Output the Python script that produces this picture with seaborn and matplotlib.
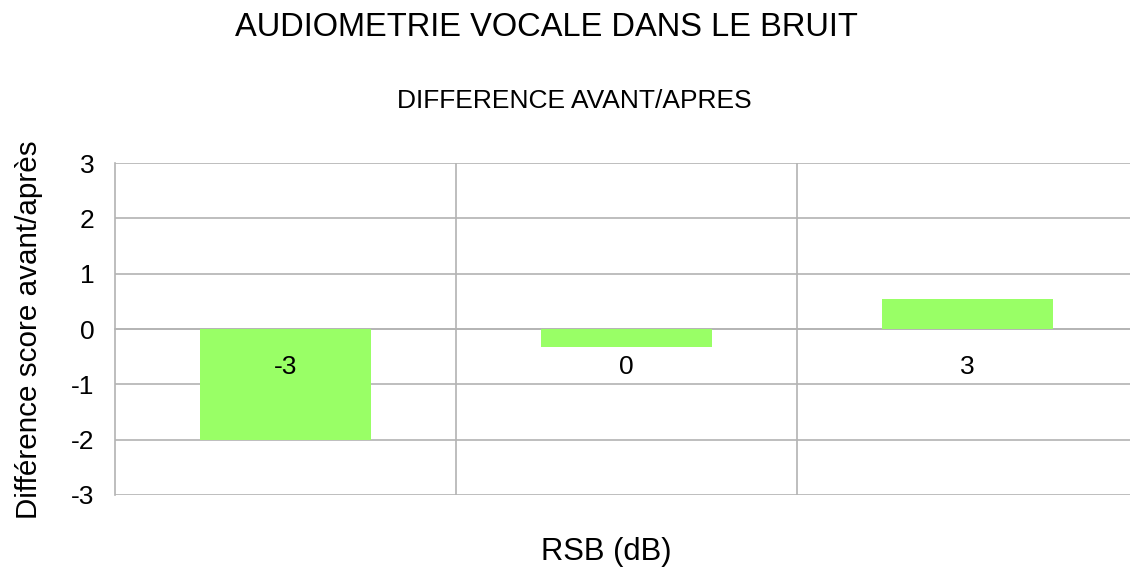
import matplotlib
matplotlib.use("Agg")
import matplotlib.pyplot as plt
import seaborn as sns
import pandas as pd
from matplotlib.ticker import FixedLocator

categories = ["-3", "0", "3"]
values = [-2.0, -0.32, 0.55]
yticks = [-3, -2, -1, 0, 1, 2, 3]

title = "AUDIOMETRIE VOCALE DANS LE BRUIT"
subtitle = "DIFFERENCE AVANT/APRES"
xlabel = "RSB (dB)"
ylabel = "Différence score avant/après"

sns.set_style("white")
plt.rcParams["font.family"] = ["Liberation Sans", "DejaVu Sans"]
plt.rcParams["text.color"] = "black"
plt.rcParams["xtick.labelcolor"] = "black"
plt.rcParams["ytick.labelcolor"] = "black"

df = pd.DataFrame({"RSB": categories, "diff": values})

W, H = 1130, 571
fig = plt.figure(figsize=(W / 100, H / 100), dpi=100)
ax = fig.add_axes([115 / W, 1 - 495 / H, (1138 - 115) / W, (495 - 163) / H])

grid_c = "#b3b3b3"
sns.barplot(data=df, x="RSB", y="diff", color="#99ff66", width=0.5,
            saturation=1, ax=ax, zorder=3, edgecolor="none", linewidth=0)

ax.set_ylim(-3, 3)
ax.set_xlim(-0.5, 2.5)
ax.set_yticks(yticks)
ax.set_yticklabels([str(v) for v in yticks])
ax.yaxis.grid(True, color=grid_c, linewidth=1.2, zorder=0)
ax.xaxis.set_minor_locator(FixedLocator([0.5, 1.5]))
ax.xaxis.grid(True, which="minor", color=grid_c, linewidth=1.2)
ax.xaxis.grid(False, which="major")
ax.set_axisbelow(True)
ax.xaxis.set_zorder(5)

for s in ["top", "right"]:
    ax.spines[s].set_visible(False)
ax.spines["left"].set_color(grid_c)
ax.spines["left"].set_linewidth(1.2)
ax.spines["bottom"].set_position(("data", 0))
ax.spines["bottom"].set_color(grid_c)
ax.spines["bottom"].set_linewidth(1.2)
ax.spines["bottom"].set_zorder(1)

ax.tick_params(axis="y", which="major", length=9, width=1.2, color=grid_c,
               labelsize=19, pad=6, direction="out", labelcolor="black")
ax.tick_params(axis="x", which="major", length=0, labelsize=19, pad=19,
               labelcolor="black")
ax.tick_params(axis="x", which="minor", length=7, width=1.2, color="#999999",
               direction="out")

ax.set_xlabel("")
ax.set_ylabel("")

fig.text(546 / W, 1 - 28 / H, title, ha="center", va="center", fontsize=23.5)
fig.text(574 / W, 1 - 101 / H, subtitle, ha="center", va="center", fontsize=19)
fig.text(606 / W, 1 - 552 / H, xlabel, ha="center", va="center", fontsize=22.3)
fig.text(29 / W, 1 - 330 / H, ylabel, ha="center", va="center", fontsize=21.3,
         rotation=90)

fig.savefig("out.png", dpi=100)
